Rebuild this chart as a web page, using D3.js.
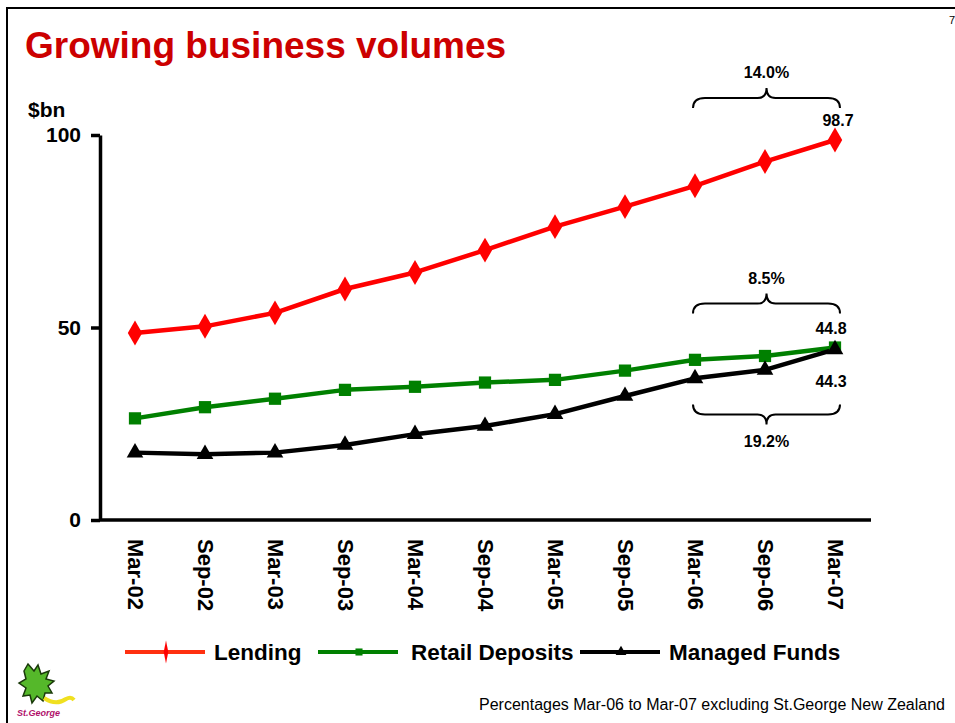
<!DOCTYPE html>
<html>
<head>
<meta charset="utf-8">
<script src="https://cdn.jsdelivr.net/npm/d3@7"></script>
<style>
  body { margin: 0; background: #fff; }
  svg text { font-family: "Liberation Sans", Arial, sans-serif; }
</style>
</head>
<body>
<div id="chart"></div>
<script>
"use strict";

const categories = ["Mar-02", "Sep-02", "Mar-03", "Sep-03", "Mar-04", "Sep-04",
    "Mar-05", "Sep-05", "Mar-06", "Sep-06", "Mar-07"];
const lending = [48.6, 50.3, 53.8, 60.0, 64.3, 70.1, 76.2, 81.4, 86.8, 93.1, 98.7];
const retailDeposits = [26.4, 29.3, 31.5, 33.8, 34.6, 35.7, 36.4, 38.8, 41.6, 42.6, 44.8];
const managedFunds = [17.5, 17.1, 17.5, 19.5, 22.3, 24.4, 27.5, 32.2, 36.8, 39.0, 44.3];
const yTicks = [0, 50, 100];
const growth = { lending: "14.0%", retail: "8.5%", managed: "19.2%" };

const msm = {
    width: 955,
    height: 723,
    left: 100,
    right: 870,
    top: 135,
    bottom: 520
}

let svgContainer = d3.select("#chart")
    .append("svg")
    .attr("width", msm.width)
    .attr("height", msm.height);

// slide frame
svgContainer.append("path")
    .attr("d", "M7," + msm.height + " V8 H" + msm.width)
    .attr("fill", "none")
    .attr("stroke", "#000")
    .attr("stroke-width", 2);

svgContainer.append("text")
    .attr("x", 949)
    .attr("y", 24)
    .style("font-size", "11px")
    .text("7");

svgContainer.append("text")
    .attr("x", 25)
    .attr("y", 58)
    .style("font-size", "37px")
    .style("font-weight", "bold")
    .attr("fill", "#cc0000")
    .text("Growing business volumes");

let xScale = d3.scalePoint()
    .domain(categories)
    .range([msm.left, msm.right])
    .padding(0.5);

let yScale = d3.scaleLinear()
    .domain([0, 100])
    .range([msm.bottom, msm.top]);

// y axis
let yAxis = d3.axisLeft(yScale)
    .tickValues(yTicks)
    .tickSize(9)
    .tickSizeOuter(0)
    .tickPadding(10);
let gy = svgContainer.append("g")
    .attr("transform", "translate(" + msm.left + ",0)")
    .call(yAxis);
gy.select(".domain").attr("stroke-width", 3.5);
gy.selectAll(".tick line").attr("stroke-width", 3.5);
gy.selectAll(".tick text")
    .style("font-size", "21px")
    .style("font-weight", "bold")
    .attr("fill", "#000");

svgContainer.append("text")
    .attr("x", 28)
    .attr("y", 117)
    .style("font-size", "21px")
    .style("font-weight", "bold")
    .text("$bn");

// x axis
let xAxis = d3.axisBottom(xScale)
    .tickSize(0)
    .tickSizeOuter(0)
    .tickPadding(0);
let gx = svgContainer.append("g")
    .attr("transform", "translate(0," + msm.bottom + ")")
    .call(xAxis);
gx.select(".domain")
    .attr("d", "M" + msm.left + ",0H" + (msm.right + 1))
    .attr("stroke-width", 3.5);
gx.selectAll(".tick text")
    .attr("transform", "rotate(90)")
    .attr("x", 19)
    .attr("y", 0)
    .attr("dy", "0.36em")
    .attr("text-anchor", "start")
    .style("font-size", "22px")
    .style("font-weight", "bold")
    .attr("fill", "#000");

// series
const series = [
    { name: "Lending", values: lending, color: "#ff0000", marker: d3.symbolDiamond, size: 180 },
    { name: "Retail Deposits", values: retailDeposits, color: "#008000", marker: d3.symbolSquare, size: 150 },
    { name: "Managed Funds", values: managedFunds, color: "#000000", marker: d3.symbolTriangle, size: 120 }
];

let line = d3.line()
    .x((d, i) => xScale(categories[i]))
    .y((d) => yScale(d));

for (let s of series) {
    svgContainer.append("path")
        .datum(s.values)
        .attr("fill", "none")
        .attr("stroke", s.color)
        .attr("stroke-width", 4.5)
        .attr("stroke-linejoin", "round")
        .attr("d", line);
}
for (let s of series) {
    svgContainer.selectAll(".pt-" + s.name.replace(" ", ""))
        .data(s.values)
        .enter()
        .append("path")
        .attr("d", d3.symbol().type(s.marker).size(s.size))
        .attr("transform", (d, i) => "translate(" + xScale(categories[i]) + "," + yScale(d) + ")")
        .attr("fill", s.color);
}

// annotations
function brace(x1, x2, y, dir) {
    // dir = 1 : ends point down, middle points up
    let xm = (x1 + x2) / 2;
    let e = 10 * dir;
    return "M" + x1 + "," + (y + e) + " Q" + x1 + "," + y + " " + (x1 + 12) + "," + y +
        " L" + (xm - 9) + "," + y + " Q" + xm + "," + y + " " + xm + "," + (y - e) +
        " Q" + xm + "," + y + " " + (xm + 9) + "," + y +
        " L" + (x2 - 12) + "," + y + " Q" + x2 + "," + y + " " + x2 + "," + (y + e);
}

const last = categories.length - 1;
const bx1 = xScale(categories[last - 2]) - 2;
const bx2 = xScale(categories[last]) + 5;

function label(x, y, txt) {
    svgContainer.append("text")
        .attr("x", x)
        .attr("y", y)
        .attr("text-anchor", "middle")
        .style("font-size", "16px")
        .style("font-weight", "bold")
        .text(txt);
}

let yL = yScale(lending[last]) - 42;
svgContainer.append("path").attr("d", brace(bx1, bx2, yL, 1))
    .attr("fill", "none").attr("stroke", "#000").attr("stroke-width", 2);
label((bx1 + bx2) / 2, yL - 20, growth.lending);
label(xScale(categories[last]) + 3, yScale(lending[last]) - 14, lending[last].toFixed(1));

let yR = yScale(retailDeposits[last]) - 44;
svgContainer.append("path").attr("d", brace(bx1, bx2, yR, 1))
    .attr("fill", "none").attr("stroke", "#000").attr("stroke-width", 2);
label((bx1 + bx2) / 2, yR - 20, growth.retail);
label(xScale(categories[last]) - 4, yScale(retailDeposits[last]) - 14, retailDeposits[last].toFixed(1));

let yM = yScale(managedFunds[last]) + 65;
svgContainer.append("path").attr("d", brace(bx1, bx2, yM, -1))
    .attr("fill", "none").attr("stroke", "#000").attr("stroke-width", 2);
label((bx1 + bx2) / 2, yM + 33, growth.managed);
label(xScale(categories[last]) - 4, yScale(managedFunds[last]) + 38, managedFunds[last].toFixed(1));

// legend
const legendPos = [125, 318, 580];
const legendText = [214, 411, 669];
const legendY = 652;
series.forEach((s, i) => {
    let g = svgContainer.append("g");
    g.append("line")
        .attr("x1", legendPos[i]).attr("x2", legendPos[i] + 80)
        .attr("y1", legendY).attr("y2", legendY)
        .attr("stroke", i === 0 ? "#ff3010" : s.color)
        .attr("stroke-width", 4);
    g.append("path")
        .attr("d", d3.symbol().type(s.marker).size(i === 0 ? 60 : 50))
        .attr("transform", "translate(" + (legendPos[i] + 41) + "," + legendY + ")" +
            (i === 0 ? " scale(0.55,1.6)" : ""))
        .attr("fill", i === 0 ? "#ff0000" : s.color);
    g.append("text")
        .attr("x", legendText[i])
        .attr("y", legendY + 8)
        .style("font-size", "22.5px")
        .style("font-weight", "bold")
        .text(s.name);
});

svgContainer.append("text")
    .attr("x", 945)
    .attr("y", 710)
    .attr("text-anchor", "end")
    .style("font-size", "16px")
    .text("Percentages Mar-06 to Mar-07 excluding St.George New Zealand");

// St.George logo (rough)
let logo = svgContainer.append("g").attr("transform", "translate(16,662)");
logo.append("path")
    .attr("d", "M12,2 L18,9 L22,3 L25,12 L33,9 L30,17 L38,19 L32,24 L36,31 L29,31 L27,39 L21,34 L16,41 L14,33 L7,34 L10,26 L3,21 L10,17 L8,9 Z")
    .attr("fill", "#55b82a")
    .attr("stroke", "#1a3a0a")
    .attr("stroke-width", 1.5);
logo.append("path")
    .attr("d", "M28,36 Q40,44 50,37 Q55,34 58,38")
    .attr("fill", "none")
    .attr("stroke", "#f0e020")
    .attr("stroke-width", 4);
logo.append("text")
    .attr("x", 1)
    .attr("y", 54)
    .style("font-size", "9px")
    .style("font-weight", "bold")
    .style("font-style", "italic")
    .attr("fill", "#b0106a")
    .text("St.George");
</script>
</body>
</html>
